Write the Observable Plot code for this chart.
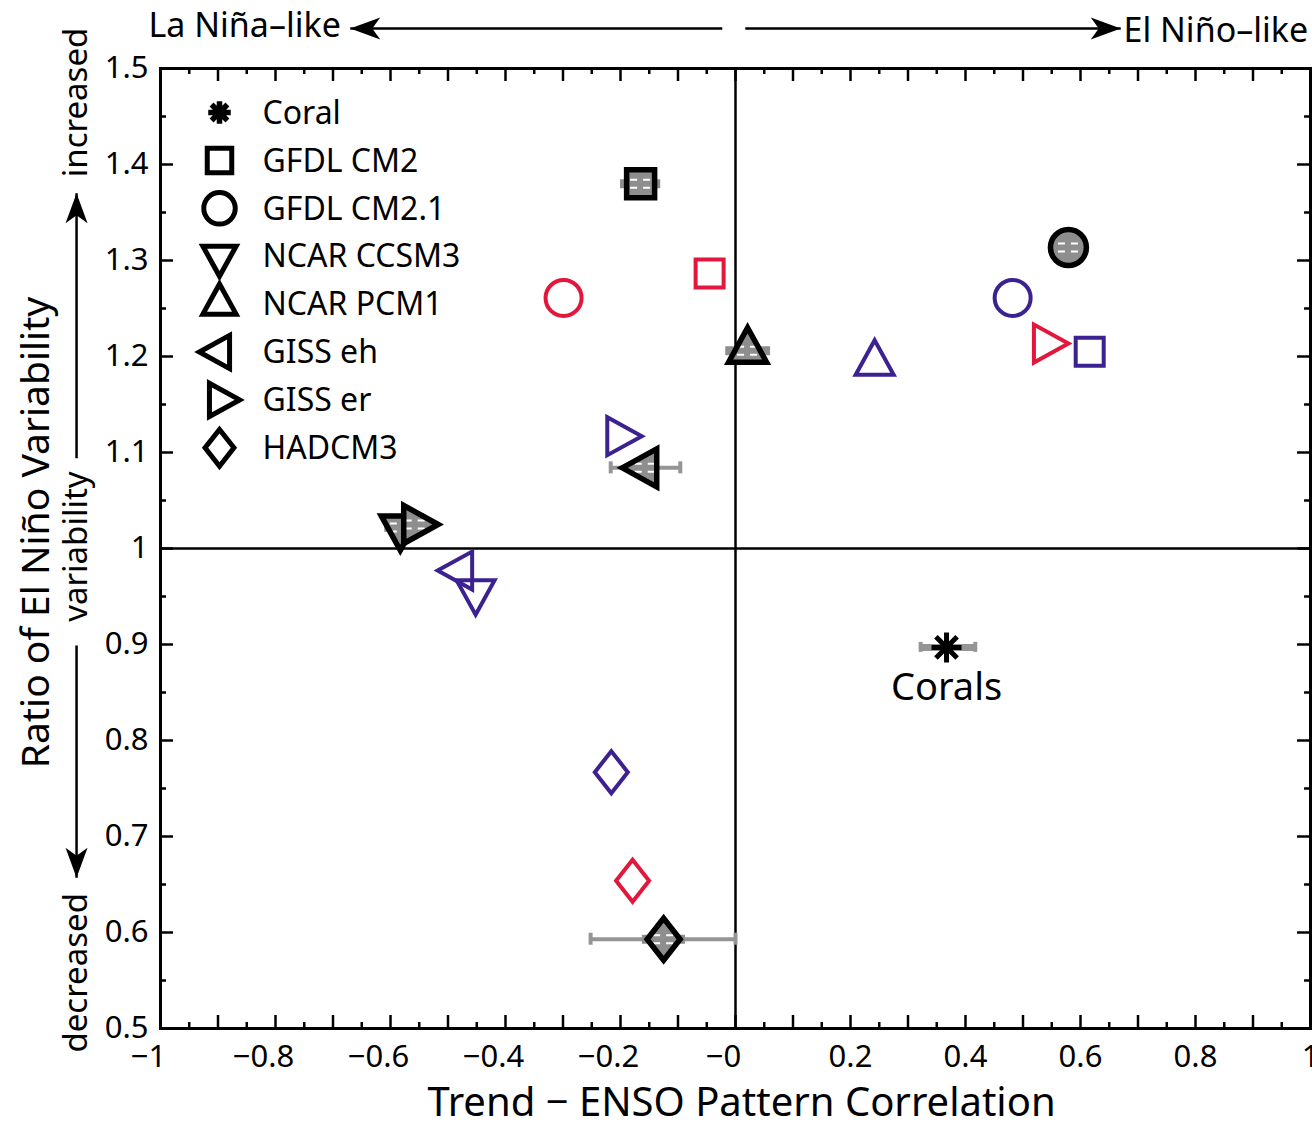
<!DOCTYPE html>
<html><head><meta charset="utf-8">
<script src="https://cdn.jsdelivr.net/npm/d3@7"></script>
<script src="https://cdn.jsdelivr.net/npm/@observablehq/plot@0.6"></script>
<style>html,body{margin:0;padding:0;background:#fff;overflow:hidden}</style>
</head><body><div id="chart"></div>
<script>
// ---------- data ----------
const models = ["GFDL CM2", "GFDL CM2.1", "NCAR CCSM3", "NCAR PCM1", "GISS eh", "GISS er", "HADCM3"];
const legendNames = ["Coral", "GFDL CM2", "GFDL CM2.1", "NCAR CCSM3", "NCAR PCM1", "GISS eh", "GISS er", "HADCM3"];

// black (ensemble) points with gray ranges
const ensX    = [-0.165, 0.579, -0.583, 0.021, -0.157, -0.557, -0.125];
const ensY    = [1.380, 1.3135, 1.022, 1.206, 1.084, 1.025, 0.593];
const boxLo   = [-0.200, 0.560, -0.610, -0.017, -0.190, -0.575, -0.162];
const boxHi   = [-0.130, 0.600, -0.560, 0.061, -0.140, -0.535, -0.087];
const whiskLo = [null, null, null, null, -0.217, null, -0.252];
const whiskHi = [null, null, null, null, -0.096, null, 0.000];

// purple points
const purpleX = [0.616, 0.482, -0.452, 0.242, -0.478, -0.203, -0.216];
const purpleY = [1.205, 1.261, 0.955, 1.193, 0.977, 1.117, 0.767];

// red points (missing for some models)
const redX = [-0.045, -0.299, null, null, null, 0.539, -0.179];
const redY = [1.2865, 1.261, null, null, null, 1.2135, 0.654];

// coral
const coralX = [0.367];
const coralY = [0.897];
const coralLo = [0.322];
const coralHi = [0.417];
const coralLabel = ["Corals"];

// ticks
const xTickLabels = [-1, -0.8, -0.6, -0.4, -0.2, 0, 0.2, 0.4, 0.6, 0.8, 1];
const yTickLabels = [0.5, 0.6, 0.7, 0.8, 0.9, 1, 1.1, 1.2, 1.3, 1.4, 1.5];

// ---------- styles ----------
const BLACK = "#000";
const RED = "#e2173b";
const PURPLE = "#3c2290";
const GRAY = "#959595";
const FILL = "#8e8e8e";
const FONT = "Noto Sans";

// ---------- custom symbols ----------
const sym = fn => ({draw(ctx, size) { const k = Math.sqrt(size / Math.PI) / 16; fn(ctx, k); }});
const poly = (ctx, pts) => { ctx.moveTo(pts[0][0], pts[0][1]); for (const p of pts.slice(1)) ctx.lineTo(p[0], p[1]); ctx.closePath(); };
const shapes = {
  "GFDL CM2": sym((c, k) => { const h = 14 * k; poly(c, [[-h, -h], [h, -h], [h, h], [-h, h]]); }),
  "GFDL CM2.1": sym((c, k) => { const r = 18 * k; c.moveTo(r, 0); c.arc(0, 0, r, 0, 2 * Math.PI); c.closePath(); }),
  "NCAR CCSM3": sym((c, k) => poly(c, [[0, 23 * k], [19 * k, -11.5 * k], [-19 * k, -11.5 * k]])),
  "NCAR PCM1": sym((c, k) => poly(c, [[0, -23 * k], [19 * k, 11.5 * k], [-19 * k, 11.5 * k]])),
  "GISS eh": sym((c, k) => poly(c, [[-23 * k, 0], [11.5 * k, -19 * k], [11.5 * k, 19 * k]])),
  "GISS er": sym((c, k) => poly(c, [[23 * k, 0], [-11.5 * k, -19 * k], [-11.5 * k, 19 * k]])),
  "HADCM3": sym((c, k) => poly(c, [[0, -21 * k], [16.5 * k, 0], [0, 21 * k], [-16.5 * k, 0]])),
  "Coral": sym((c, k) => { const r = 15 * k; for (let a = 0; a < 4; a++) { const t = a * Math.PI / 4; c.moveTo(r * Math.cos(t), r * Math.sin(t)); c.lineTo(-r * Math.cos(t), -r * Math.sin(t)); } })
};
const arrowHead = sym((c, k) => poly(c, [[0, 0], [11 * k, 30 * k], [0, 22 * k], [-11 * k, 30 * k]]));

// ---------- tables ----------
const ens = models.map((m, i) => ({model: m, x: ensX[i], y: ensY[i], lo: boxLo[i], hi: boxHi[i], wlo: whiskLo[i], whi: whiskHi[i]}));
const purple = models.map((m, i) => ({model: m, x: purpleX[i], y: purpleY[i]}));
const red = models.map((m, i) => ({model: m, x: redX[i], y: redY[i]})).filter(d => d.x != null);
const coral = coralX.map((x, i) => ({x, y: coralY[i], lo: coralLo[i], hi: coralHi[i], label: coralLabel[i]}));
const whisk = ens.filter(d => d.wlo != null);

// annotation arrows (layout, in plot coordinates)
const annArrows = [
  {x1: -0.023, y1: 1.5417, x2: -0.670, y2: 1.5417, rot: -90},
  {x1: 0.017, y1: 1.5417, x2: 0.670, y2: 1.5417, rot: 90},
  {x1: -1.146, y1: 1.094, x2: -1.146, y2: 1.370, rot: 0},
  {x1: -1.146, y1: 0.899, x2: -1.146, y2: 0.657, rot: 180}
];

const marks = [];
// quadrant lines
marks.push(Plot.ruleX([0], {stroke: BLACK, strokeWidth: 2.5}));
marks.push(Plot.ruleY([1], {stroke: BLACK, strokeWidth: 2.5}));
// inward ticks on four sides
const xMajor = d3.ticks(-1, 1, 20), xMinor = d3.ticks(-1, 1, 40).filter(v => !xMajor.some(m => Math.abs(m - v) < 1e-9));
const yMajor = d3.ticks(0.5, 1.5, 10), yMinor = d3.ticks(0.5, 1.5, 20).filter(v => !yMajor.some(m => Math.abs(m - v) < 1e-9));
for (const [vals, len] of [[xMajor, 13], [xMinor, 6]]) {
  marks.push(Plot.ruleX(vals, {y1: 0.5, y2: 0.5, insetTop: -len, stroke: BLACK, strokeWidth: 2.5}));
  marks.push(Plot.ruleX(vals, {y1: 1.5, y2: 1.5, insetBottom: -len, stroke: BLACK, strokeWidth: 2.5}));
}
for (const [vals, len] of [[yMajor, 13], [yMinor, 6]]) {
  marks.push(Plot.ruleY(vals, {x1: -1, x2: -1, insetRight: -len, stroke: BLACK, strokeWidth: 2.5}));
  marks.push(Plot.ruleY(vals, {x1: 1, x2: 1, insetLeft: -len, stroke: BLACK, strokeWidth: 2.5}));
}
marks.push(Plot.frame({stroke: BLACK, strokeWidth: 3}));

// tick labels
const fmtX = d => d <= 0 ? "\u2212" + Math.abs(d) : String(d);
marks.push(Plot.axisX({ticks: xTickLabels.filter(d => d <= 0), tickSize: 0, tickPadding: 16, dx: -12, tickFormat: fmtX, label: null, fontSize: 31}));
marks.push(Plot.axisX({ticks: xTickLabels.filter(d => d > 0), tickSize: 0, tickPadding: 16, tickFormat: fmtX, label: null, fontSize: 31}));
marks.push(Plot.axisY({ticks: yTickLabels, tickSize: 0, tickPadding: 12, tickFormat: d => String(+d.toFixed(1)), label: null, fontSize: 31}));

// gray ranges
marks.push(Plot.ruleY(whisk, {x1: "wlo", x2: "whi", y: "y", stroke: GRAY, strokeWidth: 4}));
marks.push(Plot.ruleX(whisk, {x: "wlo", y1: "y", y2: "y", insetTop: -6, insetBottom: -6, stroke: GRAY, strokeWidth: 4}));
marks.push(Plot.ruleX(whisk, {x: "whi", y1: "y", y2: "y", insetTop: -6, insetBottom: -6, stroke: GRAY, strokeWidth: 4}));
marks.push(Plot.ruleY(ens, {x1: "lo", x2: "hi", y: "y", stroke: FILL, strokeWidth: 9}));

// markers
for (const m of models) {
  const s = shapes[m];
  const f = d => d.model === m;
  marks.push(Plot.dot(purple, {filter: f, x: "x", y: "y", r: 16, symbol: s, fill: "none", stroke: PURPLE, strokeWidth: 4}));
  marks.push(Plot.dot(red, {filter: f, x: "x", y: "y", r: 16, symbol: s, fill: "none", stroke: RED, strokeWidth: 4}));
  marks.push(Plot.dot(ens, {filter: f, x: "x", y: "y", r: 16, symbol: s, fill: FILL, stroke: "none"}));
  for (const dy of [-4, 4]) marks.push(Plot.ruleY(ens, {filter: f, x1: "x", x2: "x", y: "y", dy, insetLeft: -10, insetRight: -10, stroke: "white", strokeWidth: 2, strokeDasharray: "7,6"}));
  marks.push(Plot.dot(ens, {filter: f, x: "x", y: "y", r: 16, symbol: s, fill: "none", stroke: BLACK, strokeWidth: 5.5}));
}

// coral
marks.push(Plot.ruleY(coral, {x1: "lo", x2: "hi", y: "y", stroke: GRAY, strokeWidth: 7}));
marks.push(Plot.ruleX(coral, {x: "lo", y1: "y", y2: "y", insetTop: -5, insetBottom: -5, stroke: GRAY, strokeWidth: 4}));
marks.push(Plot.ruleX(coral, {x: "hi", y1: "y", y2: "y", insetTop: -5, insetBottom: -5, stroke: GRAY, strokeWidth: 4}));
marks.push(Plot.dot(coral, {x: "x", y: "y", r: 16, symbol: shapes["Coral"], stroke: BLACK, strokeWidth: 5}));
marks.push(Plot.text(coral, {x: "x", y: "y", text: "label", dy: 40, fontSize: 38, fill: BLACK}));

// legend
legendNames.forEach((name, i) => {
  const dy = 44 + i * 47.9;
  if (name === "Coral") {
    marks.push(Plot.dot([name], {frameAnchor: "top-left", dx: 59, dy, r: 12, symbol: shapes[name], stroke: BLACK, strokeWidth: 5.5}));
  } else {
    marks.push(Plot.dot([name], {frameAnchor: "top-left", dx: 59, dy, r: 14, symbol: shapes[name], fill: "none", stroke: BLACK, strokeWidth: 5}));
  }
  marks.push(Plot.text([name], {frameAnchor: "top-left", dx: 102, dy: dy + 1, text: d => d, textAnchor: "start", lineAnchor: "middle", fontSize: 32, fill: BLACK}));
});

// annotation arrows
marks.push(Plot.link(annArrows, {x1: "x1", y1: "y1", x2: "x2", y2: "y2", stroke: BLACK, strokeWidth: 2.5}));
for (const a of annArrows) marks.push(Plot.dot([a], {x: "x2", y: "y2", r: 16, symbol: arrowHead, rotate: a.rot, fill: BLACK, stroke: "none"}));

// annotation texts
marks.push(Plot.text(["La Ni\u00f1a\u2013like"], {frameAnchor: "top-left", dx: -12, dy: -42, textAnchor: "start", lineAnchor: "middle", fontSize: 34, fill: BLACK}));
marks.push(Plot.text(["El Ni\u00f1o\u2013like"], {frameAnchor: "top-right", dx: -187, dy: -37, textAnchor: "start", lineAnchor: "middle", fontSize: 34, fill: BLACK}));
marks.push(Plot.text(["increased"], {x: -1.146, y: 1.4646, rotate: -90, textAnchor: "middle", lineAnchor: "middle", fontSize: 33, fill: BLACK}));
marks.push(Plot.text(["variability"], {x: -1.146, y: 1.002, rotate: -90, textAnchor: "middle", lineAnchor: "middle", fontSize: 33, fill: BLACK}));
marks.push(Plot.text(["decreased"], {x: -1.146, y: 0.558, rotate: -90, textAnchor: "middle", lineAnchor: "middle", fontSize: 33, fill: BLACK}));
marks.push(Plot.text(["Ratio of El Ni\u00f1o Variability"], {frameAnchor: "left", dx: -124, dy: -16, rotate: -90, textAnchor: "middle", lineAnchor: "middle", fontSize: 39, fill: BLACK}));
marks.push(Plot.text(["Trend \u2212 ENSO Pattern Correlation"], {frameAnchor: "bottom", dx: 6, dy: 75, textAnchor: "middle", lineAnchor: "middle", fontSize: 40, fill: BLACK}));

const chart = Plot.plot({
  width: 1312, height: 1125,
  marginLeft: 160, marginRight: 2, marginTop: 68, marginBottom: 97,
  x: {domain: [-1, 1], label: null},
  y: {domain: [0.5, 1.5], label: null},
  style: {fontFamily: FONT, fontSize: "31px", color: "black", background: "white"},
  marks
});
document.getElementById("chart").append(chart);
</script></body></html>
